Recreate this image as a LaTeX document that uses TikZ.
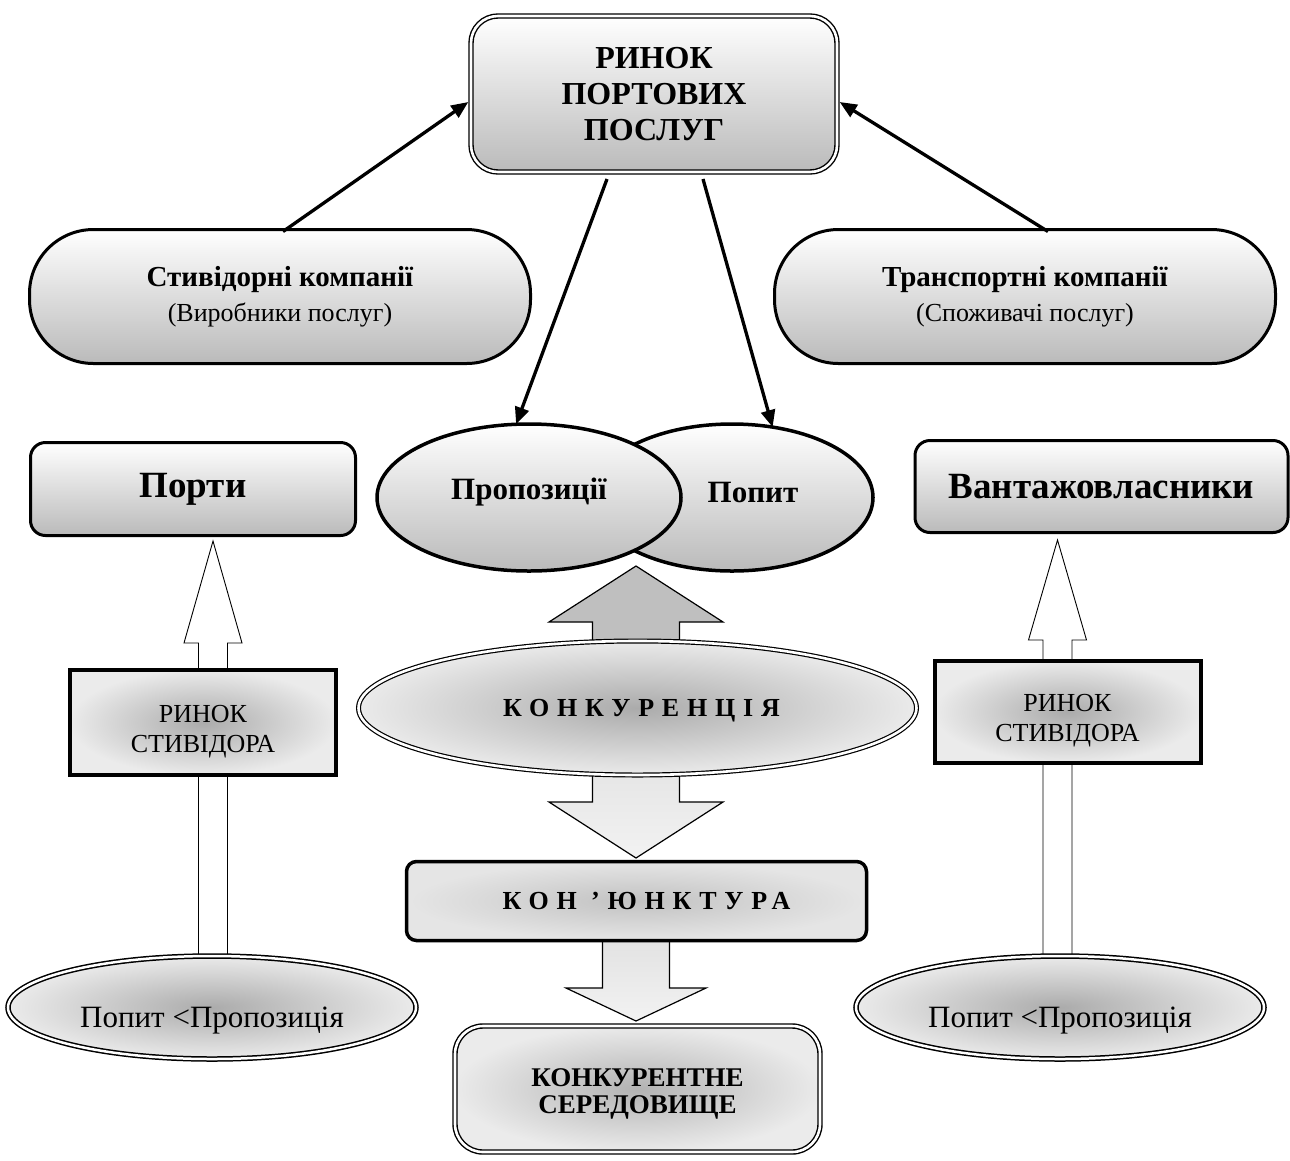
\documentclass[tikz,border=0pt]{standalone}
\usepackage{fontspec}
\setmainfont{Liberation Serif}
\newfontfamily\trackedfont[LetterSpace=30]{Liberation Serif}
\usetikzlibrary{arrows.meta,shapes.geometric,calc}
\pgfdeclarelayer{back}
\pgfsetlayers{back,main}

\newcommand{\fsz}[2]{\fontsize{#1}{#2}\selectfont}
% block arrow: [style]{centre x}{tail y}{head-base y}{tip y}{half shaft}{half head}
\newcommand{\blockarrow}[7][]{%
  \draw[#1] (#2-#6,#3) -- (#2-#6,#4) -- (#2-#7,#4) -- (#2,#5)
    -- (#2+#7,#4) -- (#2+#6,#4) -- (#2+#6,#3) -- cycle;}

\begin{document}
\begin{tikzpicture}[x=1pt,y=-1pt,
  txt/.style={inner sep=0pt, outer sep=0pt, align=center, text=black},
  vgrad/.style={top color=white, bottom color=black!27},
  rgrad/.style={inner color=black!33, outer color=black!8},
  dbl/.style={draw=black, line width=1.4pt, double=white, double distance=2.6pt},
  capsule/.style={txt, draw, line width=3pt, rounded corners=64pt, vgrad,
    minimum width=501pt, minimum height=134pt, font=\fsz{29}{35}},
  titlebox/.style={txt, draw, line width=3pt, rounded corners=15pt, vgrad,
    font=\fsz{37}{40}\bfseries},
  oval/.style={txt, ellipse, draw, line width=3.5pt, vgrad},
  ovaltext/.style={txt, font=\fsz{31}{34}\bfseries, yshift=5pt},
  stevbox/.style={txt, rectangle, draw, line width=4pt, rgrad,
    minimum width=266pt},
  stevtext/.style={txt, font=\fsz{26}{30}, yshift=-9pt},
  demand/.style={txt, ellipse, dbl, line width=1.5pt, double distance=2.5pt,
    rgrad, minimum width=408pt, minimum height=103pt},
  demandtext/.style={txt, font=\fsz{31}{36}, yshift=-13pt},
  spaced/.style={font=\fsz{26}{28}\trackedfont\bfseries, text height=17pt, text depth=0pt},
  conn/.style={line width=3.3pt, -{Triangle[length=17pt,width=14pt]}},
  hollow/.style={draw=black, line width=0.9pt, fill=white},
  solidarrow/.style={draw=black, line width=1.2pt, fill=black!25},
  lightarrow/.style={draw=black, line width=1.2pt, top color=black!12, bottom color=black!5}
]
\useasboundingbox (0,0) rectangle (1290,1160);

% ---- top level ----
\node[txt, dbl, vgrad, rounded corners=27pt, minimum width=366pt,
  minimum height=156pt, font=\fsz{32}{36}\bfseries] (market) at (654,94)
  {РИНОК\\ПОРТОВИХ\\ПОСЛУГ};

\node[capsule] (stev) at (280,296.5)
  {\textbf{Стивідорні компанії}\\\fsz{26}{35}(Виробники послуг)};
\node[capsule] (trans) at (1025,296.5)
  {\textbf{Транспортні компанії}\\\fsz{26}{35}(Споживачі послуг)};

% ---- supply and demand ----
\node[oval, minimum width=282pt, minimum height=147pt,
  label={[ovaltext, xshift=21pt]center:Попит}] (popyt) at (732,497.5) {};
\node[oval, minimum width=304pt, minimum height=147pt,
  label={[ovaltext]center:Пропозиції}] (prop) at (529,497.5) {};

\node[titlebox, minimum width=325pt, minimum height=93pt] (ports) at (193,489) {Порти};
\node[titlebox, minimum width=373pt, minimum height=92pt] (owners) at (1101.5,486.5)
  {Вантажовласники};

% ---- stevedore markets ----
\node[stevbox, minimum height=105pt, label={[stevtext]center:РИНОК\\СТИВІДОРА}]
  (stl) at (203,722.5) {};
\node[stevbox, minimum height=102pt, label={[stevtext]center:РИНОК\\СТИВІДОРА}]
  (str) at (1067.5,712) {};

\node[demand, label={[demandtext]center:Попит <Пропозиція}] (bl) at (212,1007.5) {};
\node[demand, label={[demandtext]center:Попит <Пропозиція}] (br) at (1060,1007.5) {};

% ---- centre column ----
\node[txt, ellipse, dbl, line width=1.2pt, rgrad, minimum width=558pt,
  minimum height=134pt, spaced] (konk) at (637.5,708) {\hspace*{8pt}КОНКУРЕНЦІЯ};

\node[txt, draw, line width=3.5pt, rounded corners=10pt,
  inner color=black!24, outer color=black!10, minimum width=460pt,
  minimum height=79pt, spaced] (konj) at (636.5,901) {\hspace*{20pt}КОН ’ЮНКТУРА};

\node[txt, dbl, rounded corners=28pt, inner color=black!30, outer color=black!8,
  minimum width=365pt, minimum height=126pt,
  label={[txt, font=\fsz{27}{27}\bfseries, yshift=-5pt]center:КОНКУРЕНТНЕ\\СЕРЕДОВИЩЕ}]
  (env) at (637.5,1089) {};

% ---- block arrows behind the shapes ----
\begin{pgfonlayer}{back}
  \fill[white] (0,0) rectangle (1290,1160);
  \blockarrow[hollow]{213}{960}{643}{541}{14.5}{29}
  \blockarrow[hollow]{1057.5}{960}{640}{540}{14.5}{29}
  \blockarrow[solidarrow]{636}{690}{622}{566}{43.5}{87}
  \blockarrow[lightarrow]{636}{735}{802}{858}{43.5}{87}
  \blockarrow[lightarrow]{636}{930}{988}{1021}{33.5}{70}
\end{pgfonlayer}

% ---- connectors ----
\draw[conn] ($(stev.north)+(3,2)$) -- ($(market.west)+(-2.7,8)$);
\draw[conn] ($(trans.north)+(23,2)$) -- ($(market.east)+(2.7,8)$);
\draw[conn] ($(market.south)+(-47,7)$) -- (prop.100);
\draw[conn] ($(market.south)+(49,7)$) -- (popyt.60);
\end{tikzpicture}
\end{document}
